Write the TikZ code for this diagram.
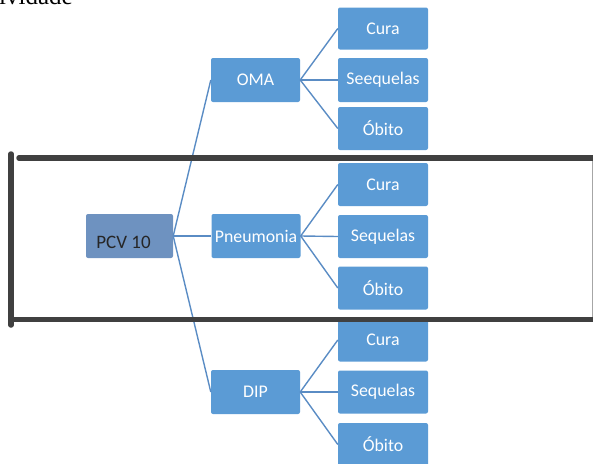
\documentclass[tikz,border=0pt]{standalone}
\usepackage{fontspec}
\setmainfont{Carlito}
\newfontfamily\serifface{Liberation Serif}
\definecolor{boxblue}{HTML}{5B9BD5}
\definecolor{rootblue}{HTML}{6E92C0}
\definecolor{linkblue}{HTML}{5A8CC4}
\definecolor{frame}{HTML}{404040}
\tikzset{
  leafbox/.style={draw=none, fill=boxblue, rounded corners=2pt, minimum width=90pt, minimum height=43pt, inner sep=0pt, text=white, font=\fontsize{17.8}{20}\selectfont},
  midbox/.style={leafbox, minimum width=89pt, minimum height=44pt},
  rootbox/.style={draw=none, fill=rootblue, rounded corners=2pt, minimum width=87pt, minimum height=44pt, inner sep=0pt},
  link/.style={draw=linkblue, line width=1.4pt},
  thickline/.style={draw=frame, line width=5.5pt, line cap=round},
}
\begin{document}
\begin{tikzpicture}[x=1pt,y=-1pt]
\useasboundingbox (0,0) rectangle (593,463);
\clip (0,0) rectangle (593,463);
% cropped heading text
\node[anchor=base west, inner sep=0pt, font=\serifface\fontsize{25}{28}\selectfont] (head) at (-1,5) {ividade};
% root
\node[rootbox] (root) at (129.5,236) {};
\node[font=\fontsize{19}{22}\selectfont, text=black!85, inner sep=0pt] (rootlabel) at (123.5,242) {PCV 10};
% middle level
\node[midbox] (oma) at (255.5,80) {OMA};
\node[midbox] (pneu) at (256,236) {Pneumonia};
\node[midbox] (dip) at (255.5,392) {DIP};
% leaves
\node[leafbox, minimum height=42pt] (c1) at (383,28.5) {Cura};
\node[leafbox, minimum height=44pt] (s1) at (383,80) {Seequelas};
\node[leafbox] (o1) at (383,128.5) {Óbito};
\node[leafbox] (c2) at (383,184.5) {Cura};
\node[leafbox] (s2) at (383,236.5) {Sequelas};
\node[leafbox] (o2) at (383,288) {Óbito};
\node[leafbox] (c3) at (383,340) {Cura};
\node[leafbox] (s3) at (383,392) {Sequelas};
\node[leafbox] (o3) at (383,444.5) {Óbito};
% connectors
\foreach \m in {oma,pneu,dip} {\draw[link] (root.east) -- (\m.west);}
\foreach \l in {c1,s1,o1} {\draw[link] (oma.east) -- (\l.west);}
\foreach \l in {c2,s2,o2} {\draw[link] (pneu.east) -- (\l.west);}
\foreach \l in {c3,s3,o3} {\draw[link] (dip.east) -- (\l.west);}
% frame
\coordinate (tl) at (19,158);
\coordinate (tr) at (600,158);
\coordinate (bl) at (13,319.5);
\coordinate (br) at (600,319.5);
\coordinate (vt) at (11,154);
\coordinate (vb) at (11,325);
\coordinate (rt) at (592,158);
\coordinate (rb) at (592,320);
\draw[draw=gray!70, line width=1pt] (rt) -- (rb);
\draw[thickline] (tl) -- (tr);
\draw[thickline] (bl) -- (br);
\draw[thickline] (vt) -- (vb);
\end{tikzpicture}
\end{document}
